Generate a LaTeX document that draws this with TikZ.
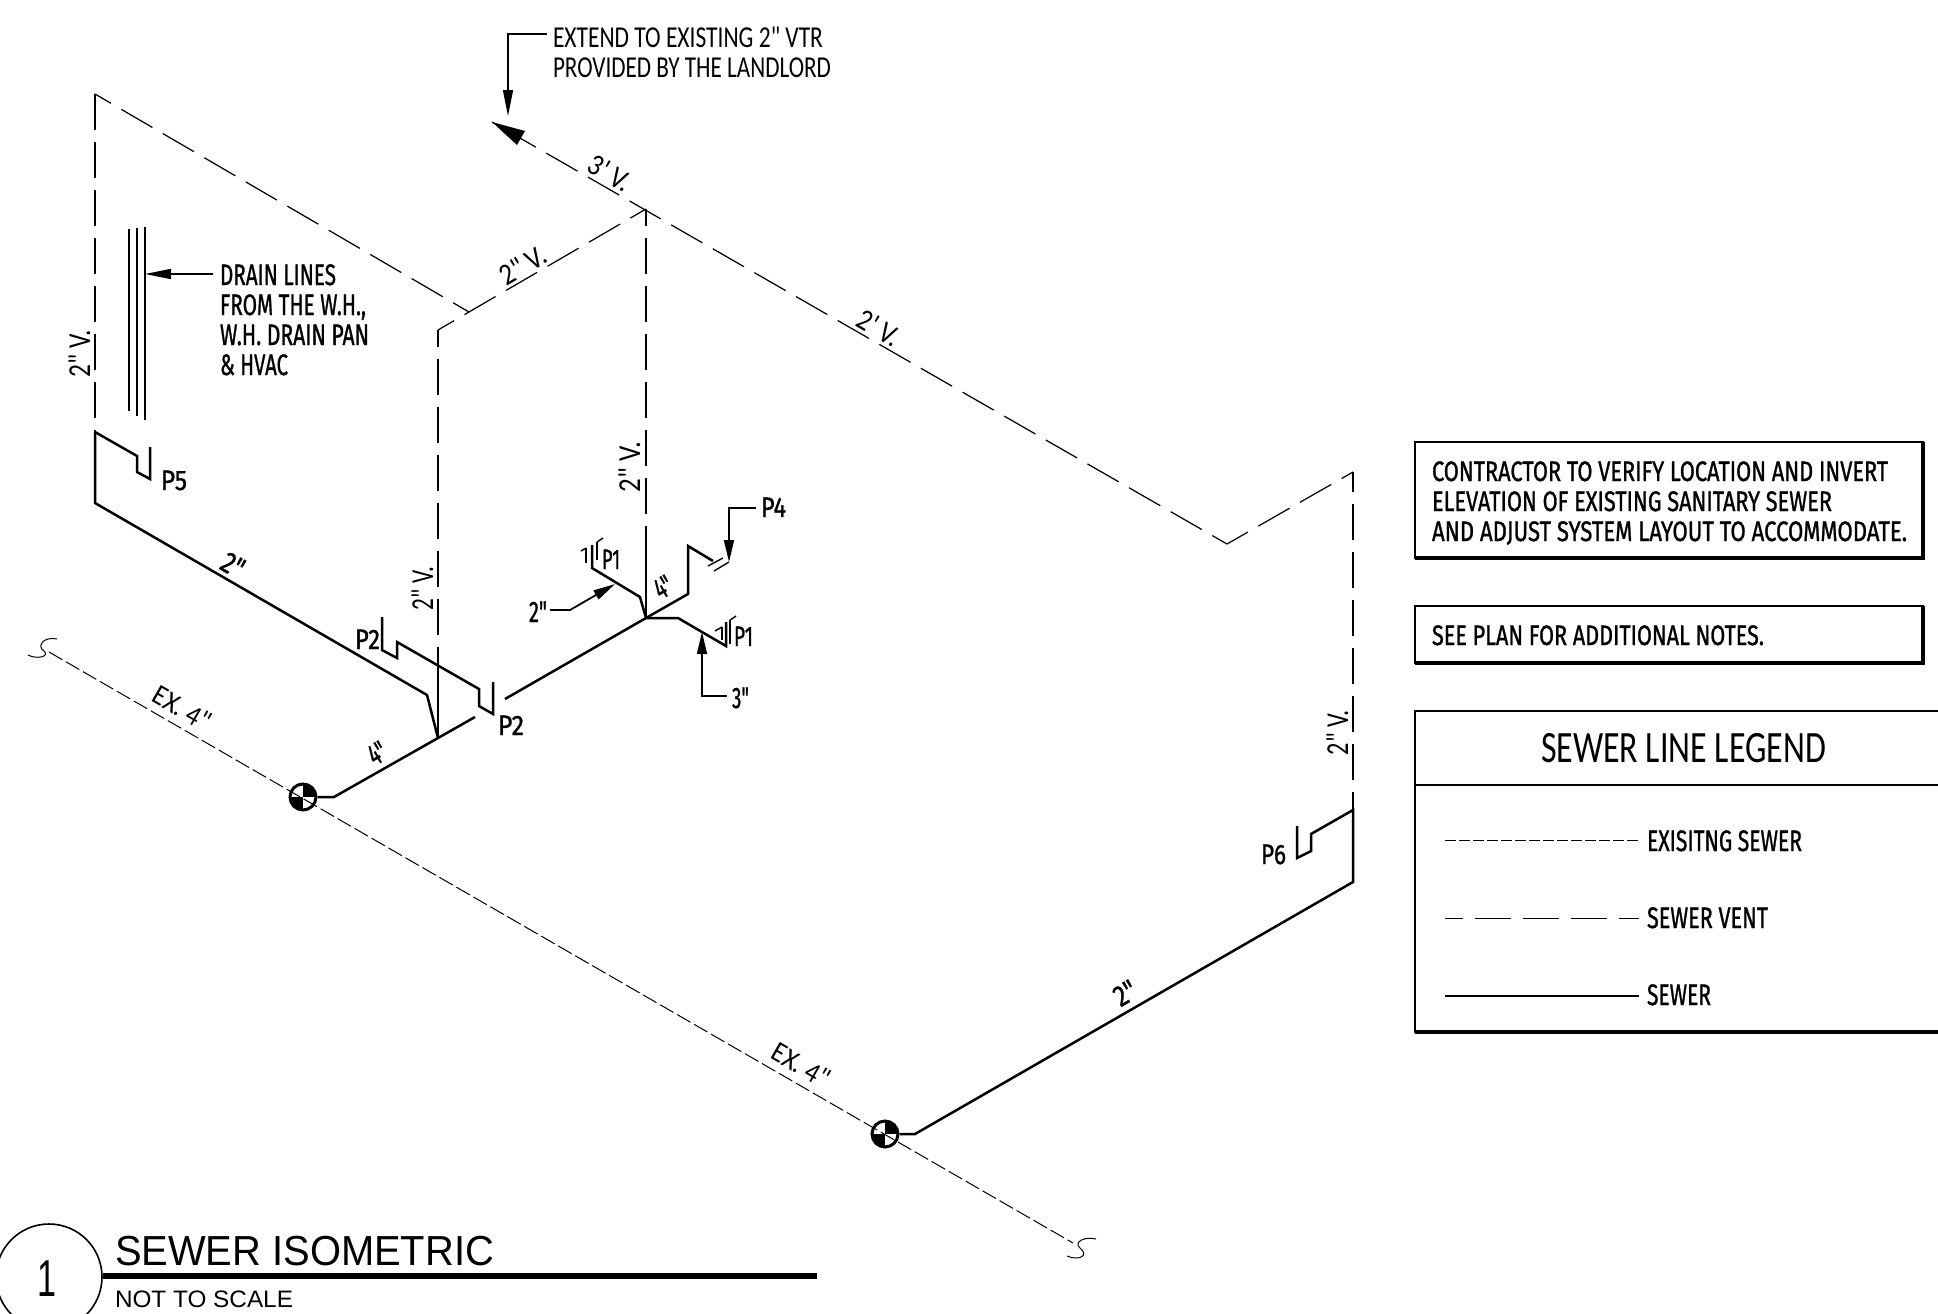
\documentclass[tikz,border=0pt]{standalone}
\usepackage{fontspec}
\usepackage{graphicx}
\usetikzlibrary{arrows.meta}
\newfontfamily\handfont[FakeBold=1.2]{Fira Sans}
\newfontfamily\thinfont{Carlito}
\newfontfamily\helvfont{Liberation Sans}
% width in px, cap height in px, text
\newcommand{\hw}[3]{{\handfont\edef\fsz{\the\dimexpr #2pt*74/100\relax}\fontsize{\fsz}{\fsz}\selectfont\resizebox{\dimexpr #1pt/2\relax}{\height}{#3}}}
\newcommand{\hl}[3]{{\thinfont\edef\fsz{\the\dimexpr #2pt*80/100\relax}\fontsize{\fsz}{\fsz}\selectfont\resizebox{\dimexpr #1pt/2\relax}{\height}{#3}}}
\newcommand{\hv}[3]{{\helvfont\edef\fsz{\the\dimexpr #2pt*70/100\relax}\fontsize{\fsz}{\fsz}\selectfont\resizebox{\dimexpr #1pt/2\relax}{\height}{#3}}}
\tikzset{
  txt/.style={inner sep=0pt,outer sep=0pt,anchor=base west},
  mid/.style={inner sep=0pt,outer sep=0pt,anchor=center},
  sewer/.style={line width=1.25pt,line join=miter,line cap=butt},
  vent/.style={line width=0.62pt,dash pattern=on 18pt off 6pt},
  exist/.style={line width=0.5pt,dash pattern=on 7.7pt off 2.1pt},
  thinl/.style={line width=0.7pt},
  boxl/.style={line width=0.8pt},
  shadowl/.style={line width=1.7pt},
  leader/.style={line width=0.8pt,-{Triangle[length=13pt,width=5pt]}},
  leaderb/.style={line width=0.9pt,-{Triangle[length=11pt,width=5pt]}},
  mh/.style={circle,draw,line width=1.5pt,fill=white,minimum size=13pt,inner sep=0pt,
    path picture={\fill[black] (path picture bounding box.center) rectangle (path picture bounding box.north east);
                  \fill[black] (path picture bounding box.center) rectangle (path picture bounding box.south west);}},
}
\begin{document}
\begin{tikzpicture}[x=0.5pt,y=-0.5pt]
\clip (0,0) rectangle (1938,1313);
\fill[white] (0,0) rectangle (1938,1313);
% coordinates
\coordinate (vtop) at (95,94);
\coordinate (p5top) at (95,432);
\coordinate (s5) at (95,503);
\coordinate (lk) at (427,695);
\coordinate (j1) at (438,738);
\coordinate (vl) at (438,330);
\coordinate (vm) at (469,312);
\coordinate (peak) at (646,209);
\coordinate (vlb) at (438,648);
\coordinate (tip) at (492,122);
\coordinate (vr) at (1227,544);
\coordinate (vrt) at (1353,472);
\coordinate (p6top) at (1353,810);
\coordinate (s6) at (1353,882);
\coordinate (k2) at (915,1134);
\coordinate (k1) at (334,797);
\coordinate (g1) at (475,717);
\coordinate (g2) at (505,699);
\coordinate (j2) at (646,618);
\coordinate (pmid) at (646,546);
% vent lines
\draw[vent,dash phase=17pt] (p5top) -- (vtop);
\draw[vent,dash phase=8.8pt] (vm) -- (vtop);
\draw[vent,dash phase=9pt] (peak) -- (vl);
\draw[vent,dash phase=9.5pt] (vl) -- (vlb);
\draw[vent,dash phase=9.5pt] (peak) -- (pmid);
\draw[vent,dash phase=16.7pt] (tip) -- (vr);
\draw[vent,dash phase=6pt] (vr) -- (vrt);
\draw[vent,dash phase=9pt] (p6top) -- (vrt);
\fill (tip) -- (525,131) -- (517,145) -- cycle;
% manholes and existing sewer
\coordinate (ex1) at (49,652);
\coordinate (ex2) at (1073,1243);
\node[mh] (mh1) at (303,797) {};
\node[mh] (mh2) at (885,1134) {};
\draw[exist] (ex1) -- (ex2);
\draw[line width=0.5pt] (57,639) .. controls (44,636) and (36,646) .. (44,651) .. controls (50,656) and (38,660) .. (28,655);
\draw[line width=0.5pt] (1096,1239) .. controls (1085,1236) and (1073,1242) .. (1080,1248) .. controls (1090,1256) and (1078,1261) .. (1067,1256);
% solid sewer
\draw[sewer] (p5top) -- (s5) -- (lk) -- (j1);
\draw[sewer] (mh1.east) -- (k1) -- (g1);
\draw[sewer] (g2) -- (j2) -- (688,594) -- (688,546) -- (713,561);
\draw[sewer] (j1) -- (vlb);
\draw[sewer] (pmid) -- (j2);
\draw[sewer] (j2) -- (640,597) -- (592,568) -- (592,545);
\draw[sewer] (j2) -- (678,618) -- (726,646) -- (726,622);
\draw[sewer] (mh2.east) -- (k2) -- (s6) -- (p6top) -- (1311,834) -- (1311,851) -- (1297,858) -- (1297,826);
\draw[sewer] (p5top) -- (137,456) -- (137,472) -- (150,479) -- (150,447);
\draw[sewer] (382,617) -- (382,650) -- (397,658) -- (397,642) -- (479,689) -- (479,706) -- (493,714) -- (493,682);
% fixture marks
\draw[thinl] (708,566) -- (723,558);
\draw[thinl] (714,571) -- (729,562);
\draw[sewer] (586,548) -- (586,563);
\draw[sewer] (597,542) -- (597,560);
\draw[thinl] (581,551) -- (586,548);
\draw[thinl] (597,542) -- (603,538);
\draw[sewer] (722,627) -- (722,640);
\draw[sewer] (730,620) -- (730,644);
\draw[thinl] (715,631) -- (722,627);
\draw[thinl] (730,620) -- (736,616);
% drain lines
\draw[sewer] (129,229) -- (129,411);
\draw[sewer] (137,228) -- (137,416);
\draw[sewer] (145,227) -- (145,420);
% leaders
\draw[leader] (213,274) -- (145,274);
\draw[leader,line width=0.7pt] (547,34) -- (508,34) -- (508,116);
\draw[leaderb] (756,508) -- (729,508) -- (729,562);
\draw[leaderb] (550,610) -- (570,610) -- (615,584);
\draw[leaderb] (727,696) -- (702,696) -- (702,632);
% boxes
\draw[boxl] (1415,442) rectangle (1923,558);
\draw[shadowl] (1923,442) -- (1923,558) -- (1415,558);
\draw[boxl] (1415,606) rectangle (1923,663);
\draw[shadowl] (1923,606) -- (1923,663) -- (1415,663);
\draw[boxl] (1945,711) -- (1415,711) -- (1415,1032) -- (1945,1032);
\draw[shadowl] (1415,1032) -- (1945,1032);
\draw[boxl] (1415,785) -- (1945,785);
\coordinate (l1) at (1445,840); \coordinate (l1e) at (1639,840);
\coordinate (l2) at (1445,918); \coordinate (l2e) at (1639,918);
\coordinate (l3) at (1445,996); \coordinate (l3e) at (1639,996);
\draw[exist,line width=0.35pt,dash pattern=on 5.4pt off 1.6pt] (l1) -- (l1e);
\draw[vent,line width=0.5pt,dash phase=9pt] (l2) -- (l2e);
\draw[line width=0.8pt] (l3) -- (l3e);
% title block
\node[circle,draw,line width=0.8pt,minimum size=53pt,inner sep=0pt] (tc) at (49,1277) {};
\coordinate (tl) at (817,1276);
\draw[line width=3pt] (tc.east) ++(0,-1) -- (tl);
\node[mid] (n1) at (47,1279) {\hv{19}{37}{1}};
\node[txt] (ttl) at (115,1265) {\hv{379}{30}{SEWER ISOMETRIC}};
\node[txt] (nts) at (115,1307) {\hv{178}{17}{NOT TO SCALE}};
% notes
\node[txt] (a1) at (553,47) {\hl{270}{19}{EXTEND TO EXISTING 2" VTR}};
\node[txt] (a2) at (553,77) {\hl{278}{19}{PROVIDED BY THE LANDLORD}};
\node[txt] (d1) at (220,285) {\hw{116}{20}{DRAIN LINES}};
\node[txt] (d2) at (220,315) {\hw{146}{20}{FROM THE W.H.,}};
\node[txt] (d3) at (220,345) {\hw{149}{20}{W.H. DRAIN PAN}};
\node[txt] (d4) at (220,375) {\hw{68}{20}{\& HVAC}};
\node[txt] (p5) at (161,490) {\hw{26}{19}{P5}};
\node[txt] (p2a) at (355,649) {\hw{25}{19}{P2}};
\node[txt] (p2b) at (498,735) {\hw{26}{19}{P2}};
\node[txt] (p1a) at (602,569) {\hw{18}{19}{P1}};
\node[txt] (p1b) at (734,646) {\hw{19}{19}{P1}};
\node[txt] (p4) at (761,517) {\hw{25}{19}{P4}};
\node[txt] (p6) at (1261,864) {\hw{25}{19}{P6}};
\node[txt] (s2) at (529,622) {\hw{18}{20}{2"}};
\node[txt] (s3) at (732,708) {\hw{17}{20}{3"}};
\node[mid,rotate=30] (f1) at (377,753) {\hw{17}{20}{4"}};
\node[mid,rotate=30] (f2) at (663,587) {\hw{17}{20}{4"}};
\node[mid,rotate=-30] (f3) at (233,565) {\hw{22}{20}{2"}};
\node[mid,rotate=30] (f4) at (1125,993) {\hw{22}{20}{2"}};
\node[txt,rotate=90] (v1) at (90,377) {\hl{47}{20}{2" V.}};
\node[txt,rotate=90] (v2) at (433,610) {\hl{43}{20}{2" V.}};
\node[txt,rotate=90] (v3) at (640,492) {\hl{50}{20}{2" V.}};
\node[txt,rotate=90] (v4) at (1348,755) {\hl{45}{20}{2" V.}};
\node[mid,rotate=30] (v5) at (523,265) {\hl{50}{19}{2" V.}};
\node[mid,rotate=-30] (v6) at (879,328) {\hl{44}{19}{2' V.}};
\node[mid,rotate=-30] (v7) at (610,173) {\hl{44}{19}{3' V.}};
\node[mid,rotate=-30] (e1) at (182,708) {\hl{62}{18}{EX. 4"}};
\node[mid,rotate=-30] (e2) at (801,1065) {\hl{62}{18}{EX. 4"}};
\node[txt] (b1) at (1432,481) {\hw{456}{19}{CONTRACTOR TO VERIFY LOCATION AND INVERT}};
\node[txt] (b2) at (1432,511) {\hw{400}{19}{ELEVATION OF EXISTING SANITARY SEWER}};
\node[txt] (b3) at (1432,541) {\hw{475}{19}{AND ADJUST SYSTEM LAYOUT TO ACCOMMODATE.}};
\node[txt] (b4) at (1432,645) {\hw{332}{19}{SEE PLAN FOR ADDITIONAL NOTES.}};
\node[txt] (lg) at (1541,762) {\hl{285}{28}{SEWER LINE LEGEND}};
\node[txt] (lg1) at (1647,851) {\hw{155}{20}{EXISITNG SEWER}};
\node[txt] (lg2) at (1647,928) {\hw{121}{20}{SEWER VENT}};
\node[txt] (lg3) at (1647,1005) {\hw{64}{20}{SEWER}};
\end{tikzpicture}
\end{document}
